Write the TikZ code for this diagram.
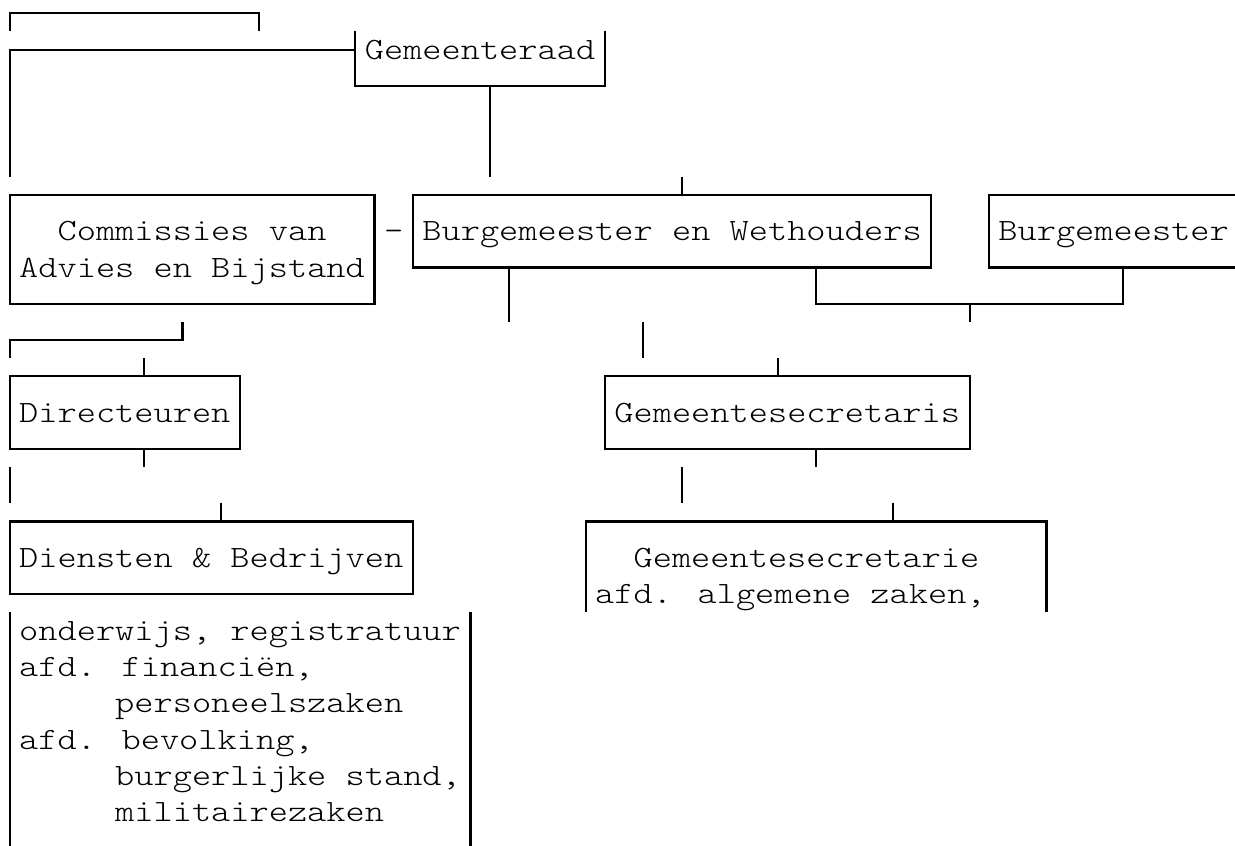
\documentclass[tikz,border=0pt]{standalone}
\usepackage{fontspec}
\newfontfamily\courlike{Latin Modern Mono Light}[FakeStretch=1.18]
\begin{document}
\begin{tikzpicture}[x=9.6pt,y=-18.15pt,
  boxline/.style={line width=1.1pt,line cap=butt,line join=miter},
  txt/.style={anchor=base west,inner sep=0pt,outer sep=0pt,font=\courlike\fontsize{15.5pt}{18pt}\selectfont}]
\useasboundingbox (0,-0.3664) rectangle (64.3229,22.9132);
% ---- text (column c starts at x=c, row r baseline at y=r+0.267)
\node[txt] (raad)   at (19,1.267) {Gemeenteraad};
\node[txt] (comm1)  at (3,6.267)  {Commissies van};
\node[txt] (dash)   at (20,6.267) {-};
\node[txt] (bew)    at (22,6.267) {Burgemeester en Wethouders};
\node[txt] (bgm)    at (52,6.267) {Burgemeester};
\node[txt] (comm2)  at (1,7.267)  {Advies en Bijstand};
\node[txt] (dir)    at (1,11.267) {Directeuren};
\node[txt] (gsec)   at (32,11.267) {Gemeentesecretaris};
\node[txt] (dienst) at (1,15.267) {Diensten \& Bedrijven};
\node[txt] (gsie1)  at (33,15.267) {Gemeentesecretarie};
\node[txt] (gsie2)  at (31,16.267) {afd. algemene zaken,};
\node[txt] (l1)     at (1,17.267) {onderwijs, registratuur};
\node[txt] (l2)     at (1,18.267) {afd. financiën,};
\node[txt] (l3)     at (6,19.267) {personeelszaken};
\node[txt] (l4)     at (1,20.267) {afd. bevolking,};
\node[txt] (l5)     at (6,21.267) {burgerlijke stand,};
\node[txt] (l6)     at (6,22.267) {militairezaken};
% ---- box-drawing lines (column c centre at x=c+0.5, row r middle at y=r)
\draw[boxline] (0.5,0.5) -- (0.5,0) -- (13.5,0) -- (13.5,0.5);
\draw[boxline] (0.5,4.5) -- (0.5,1) -- (18.5,1);
\draw[boxline] (18.5,0.5) -- (18.5,2) -- (31.5,2) -- (31.5,0.5);
\draw[boxline] (25.5,2) -- (25.5,4.5);
% row 5-8
\draw[boxline] (0.5,5) rectangle (19.5,8);
\draw[boxline] (21.5,5) rectangle (48.5,7);
\draw[boxline] (35.5,4.5) -- (35.5,5);
\draw[boxline] (26.5,7) -- (26.5,8.5);
\draw[boxline] (42.5,7) -- (42.5,8) -- (58.5,8) -- (58.5,7);
\draw[boxline] (50.5,8) -- (50.5,8.5);
\draw[boxline] (64.4,5) -- (51.5,5) -- (51.5,7) -- (64.4,7);
% row 9
\draw[boxline] (0.5,9.5) -- (0.5,9) -- (9.5,9) -- (9.5,8.5);
\draw[boxline] (33.5,8.5) -- (33.5,9.5);
% row 10-12
\draw[boxline] (0.5,10) rectangle (12.5,12);
\draw[boxline] (7.5,9.5) -- (7.5,10);
\draw[boxline] (7.5,12) -- (7.5,12.5);
\draw[boxline] (31.5,10) rectangle (50.5,12);
\draw[boxline] (40.5,9.5) -- (40.5,10);
\draw[boxline] (42.5,12) -- (42.5,12.5);
% row 13
\draw[boxline] (0.5,12.5) -- (0.5,13.5);
\draw[boxline] (35.5,12.5) -- (35.5,13.5);
% row 14-16
\draw[boxline] (0.5,14) rectangle (21.5,16);
\draw[boxline] (11.5,13.5) -- (11.5,14);
\draw[boxline] (30.5,16.5) -- (30.5,14) -- (54.5,14) -- (54.5,16.5);
\draw[boxline] (46.5,13.5) -- (46.5,14);
% rows 17-23
\draw[boxline] (0.5,16.5) -- (0.5,23);
\draw[boxline] (24.5,16.5) -- (24.5,23);
\end{tikzpicture}
\end{document}
